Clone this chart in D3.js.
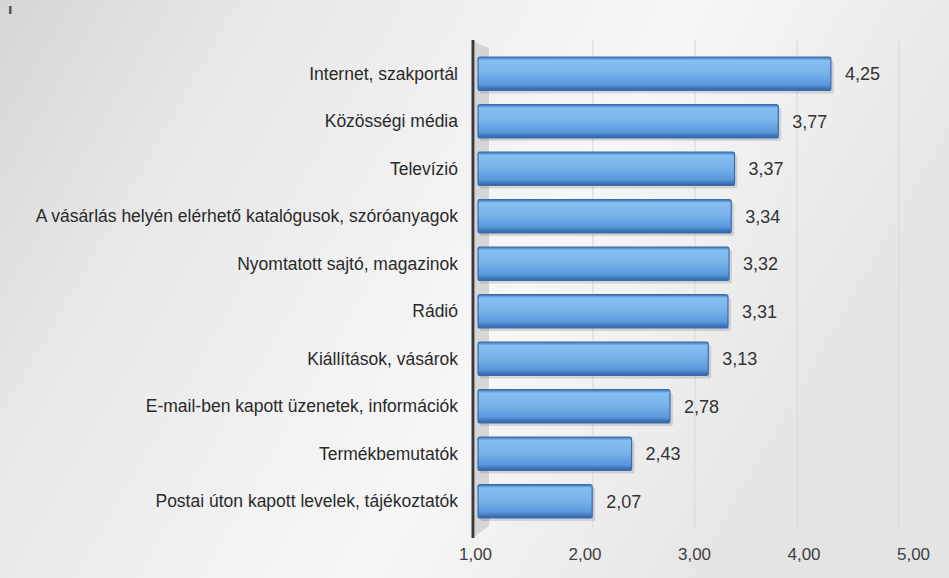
<!DOCTYPE html>
<html>
<head>
<meta charset="utf-8">
<script src="https://cdn.jsdelivr.net/npm/d3@7"></script>
<style>
  html, body { margin: 0; padding: 0; background: #fff; }
  svg { display: block; font-family: "Liberation Sans", Arial, sans-serif; }
</style>
</head>
<body>
<svg id="chart" width="949" height="578"></svg>
<script>
// Átlagos értékelés információforrásonként (1–5 skála)
const categories = [
  "Internet, szakportál",
  "Közösségi média",
  "Televízió",
  "A vásárlás helyén elérhető katalógusok, szóróanyagok",
  "Nyomtatott sajtó, magazinok",
  "Rádió",
  "Kiállítások, vásárok",
  "E-mail-ben kapott üzenetek, információk",
  "Termékbemutatók",
  "Postai úton kapott levelek, tájékoztatók"
];
const values = [4.25, 3.77, 3.37, 3.34, 3.32, 3.31, 3.13, 2.78, 2.43, 2.07];
const tickValues = [1, 2, 3, 4, 5];

const fmt = v => d3.format(".2f")(v).replace(".", ",");

const W = 949, H = 578;
const svg = d3.select("#chart");
const defs = svg.append("defs");

// background: soft grey to white
const bg = defs.append("linearGradient").attr("id", "bg")
  .attr("x1", 0).attr("y1", 0).attr("x2", 1).attr("y2", 0.35);
bg.append("stop").attr("offset", "0%").attr("stop-color", "#d6d6d6");
bg.append("stop").attr("offset", "25%").attr("stop-color", "#e8e8e8");
bg.append("stop").attr("offset", "65%").attr("stop-color", "#f7f7f7");
bg.append("stop").attr("offset", "100%").attr("stop-color", "#e4e4e4");

const barGrad = defs.append("linearGradient").attr("id", "barGrad")
  .attr("x1", 0).attr("y1", 0).attr("x2", 0).attr("y2", 1);
barGrad.append("stop").attr("offset", "0%").attr("stop-color", "#3d72b8");
barGrad.append("stop").attr("offset", "10%").attr("stop-color", "#86bff0");
barGrad.append("stop").attr("offset", "45%").attr("stop-color", "#79b4ea");
barGrad.append("stop").attr("offset", "82%").attr("stop-color", "#5b98dc");
barGrad.append("stop").attr("offset", "100%").attr("stop-color", "#2f62a6");

svg.append("rect").attr("x", 0).attr("y", 0).attr("width", W).attr("height", H)
  .attr("fill", "url(#bg)");
svg.append("rect").attr("x", 9).attr("y", 6).attr("width", 2.5).attr("height", 8)
  .attr("fill", "#555");

// scales: front plane for bars, back wall for gridlines
const x = d3.scaleLinear().domain([1, 5]).range([475, 913]);
const xBack = d3.scaleLinear().domain([1, 5]).range([491, 899]);
const y = d3.scaleBand().domain(categories).range([50, 525])
  .paddingInner(0.3).paddingOuter(0.15);

// back wall gridlines
svg.append("g").selectAll("line").data(tickValues.slice(1))
  .join("line")
  .attr("x1", d => xBack(d)).attr("x2", d => xBack(d))
  .attr("y1", 40).attr("y2", 528)
  .attr("stroke", "#dadada").attr("stroke-width", 1.2);

// side wall
svg.append("path")
  .attr("d", `M${x(1)},42 L${x(1) + 14},48 L${x(1) + 14},526 L${x(1)},536 Z`)
  .attr("fill", "#b8b8b8").attr("opacity", 0.5);

// bars
const bars = svg.append("g");
bars.selectAll("rect.shadow").data(values).join("rect")
  .attr("class", "shadow")
  .attr("x", x(1) + 5)
  .attr("y", (d, i) => y(categories[i]) + 3)
  .attr("width", d => x(d) - x(1) - 2)
  .attr("height", y.bandwidth())
  .attr("rx", 2)
  .attr("fill", "#000").attr("opacity", 0.12);
bars.selectAll("rect.bar").data(values).join("rect")
  .attr("class", "bar")
  .attr("x", x(1) + 3)
  .attr("y", (d, i) => y(categories[i]))
  .attr("width", d => x(d) - x(1) - 3)
  .attr("height", y.bandwidth())
  .attr("rx", 2)
  .attr("fill", "url(#barGrad)")
  .attr("stroke", "#3a6cb0").attr("stroke-width", 1.2);

// axis line
svg.append("line").attr("x1", x(1) - 2).attr("x2", x(1) - 2)
  .attr("y1", 40).attr("y2", 538)
  .attr("stroke", "#3a3a3a").attr("stroke-width", 3);

// category labels
svg.append("g").selectAll("text").data(categories).join("text")
  .attr("x", 458)
  .attr("y", d => y(d) + y.bandwidth() / 2)
  .attr("dy", "0.35em")
  .attr("text-anchor", "end")
  .attr("font-size", 17.5)
  .attr("fill", "#2a2a2a")
  .text(d => d);

// value labels
svg.append("g").selectAll("text").data(values).join("text")
  .attr("x", d => x(d) + 14)
  .attr("y", (d, i) => y(categories[i]) + y.bandwidth() / 2)
  .attr("dy", "0.35em")
  .attr("font-size", 18)
  .attr("fill", "#333")
  .text(d => fmt(d));

// x axis tick labels
const axis = d3.axisBottom(x).tickValues(tickValues).tickFormat(fmt).tickSize(0);
const gx = svg.append("g").attr("transform", "translate(0,545)").call(axis);
gx.select(".domain").remove();
gx.selectAll("text").attr("font-size", 17).attr("fill", "#404040")
  .attr("font-family", "'Liberation Sans', Arial, sans-serif");
</script>
</body>
</html>
